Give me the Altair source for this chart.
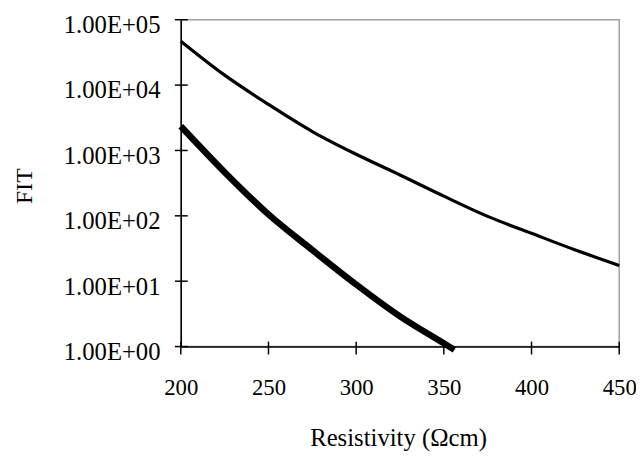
import altair as alt
import pandas as pd

# Thin curve
thin_x = [200, 225, 250, 275, 300, 325, 350, 375, 400, 425, 450]
thin_y = [47000, 14200, 5060, 1950, 875, 422, 200, 98, 54, 30, 17.4]

# Thick curve
thick_x = [200, 225, 250, 275, 300, 325, 350, 356]
thick_y = [2350, 466, 105, 30, 8.9, 2.9, 1.12, 0.89]

x_ticks = [200, 250, 300, 350, 400, 450]
y_ticks = [1, 10, 100, 1000, 10000, 100000]

thin_df = pd.DataFrame({"x": thin_x, "y": thin_y})
thick_df = pd.DataFrame({"x": thick_x, "y": thick_y})
xt_df = pd.DataFrame({"x": x_ticks})
yt_df = pd.DataFrame({"y": y_ticks})

FONT = "Liberation Serif"

xscale = alt.Scale(domain=[200, 450], nice=False, zero=False)
yscale = alt.Scale(type="log", domain=[1, 100000], nice=False)

xaxis = alt.Axis(
    values=x_ticks, grid=False, ticks=False, domainColor="black", domainWidth=1.5,
    labelFont=FONT, labelFontSize=23, labelColor="black", labelPadding=31, labelFlush=False,
    title="Resistivity (\u03a9cm)", titleFont=FONT, titleFontSize=25, titleFontWeight="normal",
    titleColor="black", titleX=220, titleY=92, titleBaseline="middle", titleAlign="center",
)
yaxis = alt.Axis(
    values=y_ticks, grid=False, ticks=False, domainColor="black", domainWidth=1.5,
    labelFont=FONT, labelFontSize=25, labelColor="black", labelPadding=21, labelOffset=5,
    labelFlush=False,
    labelExpr="'1.00E+0' + round(log(datum.value)/LN10)",
    title="FIT", titleFont=FONT, titleFontSize=24, titleFontWeight="normal", titleColor="black",
    titleX=-158, titleY=168, titleBaseline="middle", titleAlign="center", titleAngle=-90,
)

thin = alt.Chart(thin_df).mark_line(color="black", strokeWidth=3.2, interpolate="monotone").encode(
    x=alt.X("x:Q", scale=xscale, axis=xaxis),
    y=alt.Y("y:Q", scale=yscale, axis=yaxis),
)
thick = alt.Chart(thick_df).mark_line(color="black", strokeWidth=6.5, interpolate="monotone",
                                      strokeCap="butt").encode(
    x=alt.X("x:Q", scale=xscale),
    y=alt.Y("y:Q", scale=yscale),
)
yticks = alt.Chart(yt_df).mark_rule(color="black", strokeWidth=1.5).encode(
    y=alt.Y("y:Q", scale=yscale),
    x=alt.value(-6),
    x2=alt.value(7),
)
xticks = alt.Chart(xt_df).mark_rule(color="black", strokeWidth=1.5).encode(
    x=alt.X("x:Q", scale=xscale),
    y=alt.value(326),
    y2=alt.value(339),
)

chart = alt.layer(thin, thick, yticks, xticks).properties(
    width=444, height=331,
    autosize=alt.AutoSizeParams(type="none"),
    padding={"left": 175, "top": 9, "right": 17, "bottom": 112},
    background="white",
).configure_view(stroke="#a0a0a0", strokeWidth=1.5)

chart.save("out.html", embed_options={"renderer": "svg", "actions": False})
